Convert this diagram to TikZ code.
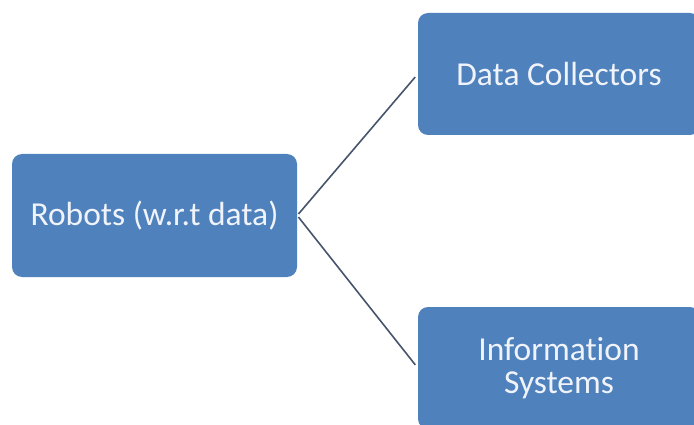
\documentclass[tikz,border=0pt]{standalone}
\usepackage{fontspec}
\setmainfont{Carlito}[Ligatures=NoCommon]
\usepackage{tikz}
\usetikzlibrary{positioning}
\definecolor{officeblue}{RGB}{79,129,189}
\definecolor{linkgray}{RGB}{70,84,110}
\definecolor{paletext}{RGB}{240,244,250}

\begin{document}
\begin{tikzpicture}[x=1pt, y=-1pt,
  box/.style={rectangle, rounded corners=10pt, fill=officeblue, text=paletext, minimum width=282pt, minimum height=122pt, align=center, inner sep=0pt, font=\fontsize{33.5}{33}\selectfont},
  link/.style={draw=linkgray, line width=1.6pt, shorten <=2pt, shorten >=4pt}
]
\useasboundingbox (0,0) rectangle (694,425);
\node[box, minimum width=285pt, minimum height=123pt] (robots) at (154.5, 215.5) {Robots (w.r.t data)};
\node[box] (collectors) at (559, 74) {Data Collectors};
\node[box] (infosys) at (559, 368) {Information\\Systems};

\draw[link] (robots.east) -- (collectors.west);
\draw[link] (robots.east) -- (infosys.west);
\end{tikzpicture}
\end{document}
